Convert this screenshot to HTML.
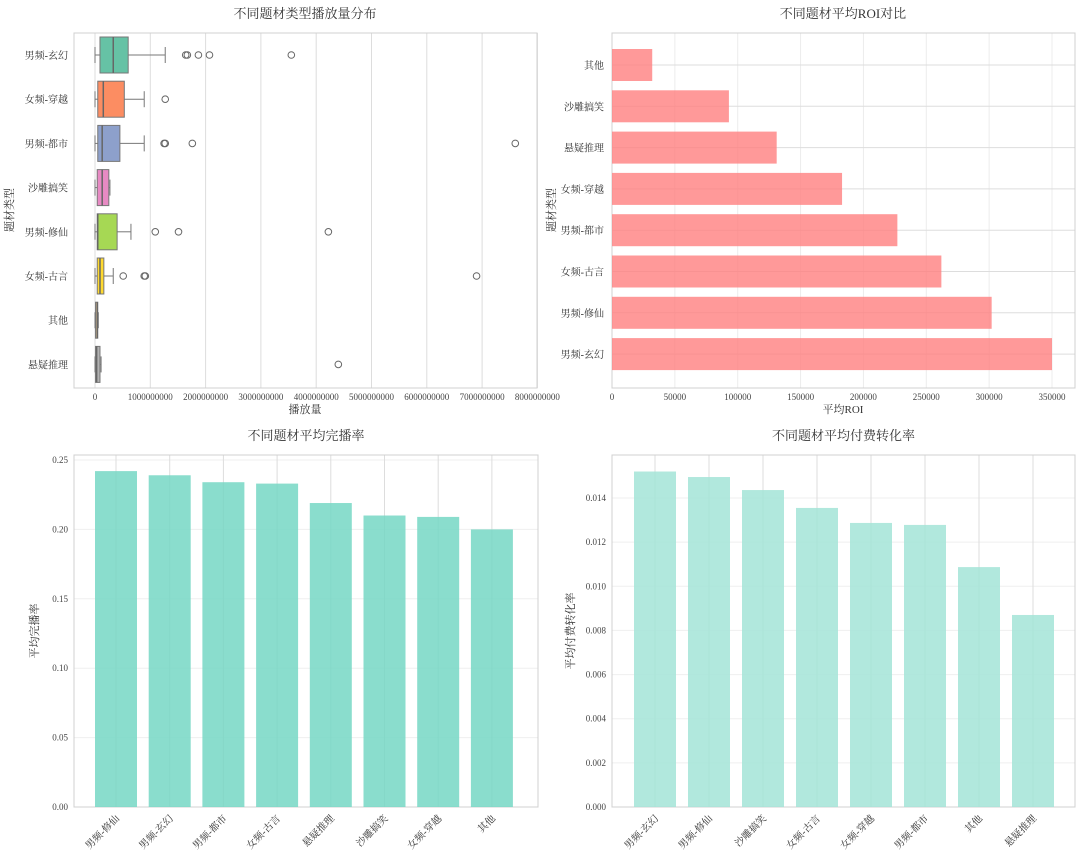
<!DOCTYPE html>
<html><head><meta charset="utf-8">
<style>
body{margin:0;background:#fff;}
svg{display:block;font-family:"Liberation Serif","Noto Serif CJK SC","Noto Sans CJK SC",serif;}
.tk{font-size:9px;fill:#444;}
.cat{font-size:10px;fill:#333;}
.ttl{font-size:13px;fill:#333;}
.lab{font-size:11px;fill:#333;}
</style></head>
<body>
<svg id="svg" width="1080" height="862" viewBox="0 0 1080 862"></svg>
<script>
// ---- Chart 1: box plot (units of 1e9 views) ----
const boxCats = ["男频-玄幻","女频-穿越","男频-都市","沙雕搞笑","男频-修仙","女频-古言","其他","悬疑推理"];
const boxLo  = [0,0,0,0,0,0,0,0];
const boxQ1  = [0.09,0.05,0.05,0.04,0.04,0.04,0.01,0.01];
const boxMed = [0.33,0.15,0.13,0.13,0.05,0.09,0.04,0.03];
const boxQ3  = [0.60,0.53,0.45,0.25,0.40,0.16,0.05,0.09];
const boxHi  = [1.27,0.89,0.89,0.27,0.65,0.33,0.06,0.11];
const boxOut = [[1.64,1.67,1.87,2.07,3.55],[1.27],[1.25,1.27,1.76,7.6],[],[1.09,1.51,4.22],[0.51,0.89,0.91,6.9],[],[4.4]];
const boxColors = ["#66c2a5","#fc8d62","#8da0cb","#e78ac3","#a6d854","#ffd92f","#e5c494","#b3b3b3"];
const boxTicks = [0,1,2,3,4,5,6,7,8];
const boxTickLabels = ["0","1000000000","2000000000","3000000000","4000000000","5000000000","6000000000","7000000000","8000000000"];
// ---- Chart 2: ROI ----
const roiCats = ["其他","沙雕搞笑","悬疑推理","女频-穿越","男频-都市","女频-古言","男频-修仙","男频-玄幻"];
const roiVals = [32000,93000,131000,183000,227000,262000,302000,350000];
const roiTicks = [0,50000,100000,150000,200000,250000,300000,350000];
// ---- Chart 3: completion ----
const cmpCats = ["男频-修仙","男频-玄幻","男频-都市","女频-古言","悬疑推理","沙雕搞笑","女频-穿越","其他"];
const cmpVals = [0.242,0.239,0.234,0.233,0.219,0.210,0.209,0.200];
const cmpTicks = [0,0.05,0.10,0.15,0.20,0.25];
// ---- Chart 4: pay conversion ----
const payCats = ["男频-玄幻","男频-修仙","沙雕搞笑","女频-古言","女频-穿越","男频-都市","其他","悬疑推理"];
const payVals = [0.0152,0.01495,0.01436,0.01355,0.01287,0.01278,0.01087,0.0087];
const payTicks = [0,0.002,0.004,0.006,0.008,0.010,0.012,0.014];

const NS="http://www.w3.org/2000/svg", S=document.getElementById('svg');
function el(t,a,p){const e=document.createElementNS(NS,t);for(const k in a)e.setAttribute(k,a[k]);(p||S).appendChild(e);return e;}
function txt(s,a,cls,p){const e=el('text',a,p);e.setAttribute('class',cls);e.textContent=s;return e;}
function frame(g,x0,y0,x1,y1){el('rect',{x:x0,y:y0,width:x1-x0,height:y1-y0,fill:'none',stroke:'#d0d0d0','stroke-width':1},g);}

// Chart 1
(function(){
 const g=el('g',{});
 const X0=74,X1=537,Y0=33,Y1=388;
 const sx=v=>95+v*55.3, sy=i=>55+i*44.2;
 boxTicks.forEach((t,i)=>{el('line',{x1:sx(t),x2:sx(t),y1:Y0,y2:Y1,stroke:'#ddd'},g);
  const l=txt(boxTickLabels[i],{x:sx(t),y:400,'text-anchor':'middle'},'tk',g);});
 frame(g,X0,Y0,X1,Y1);
 boxCats.forEach((c,i)=>{const y=sy(i),h=36;
  const b=el('g',{},g);
  el('line',{x1:sx(boxLo[i]),x2:sx(boxQ1[i]),y1:y,y2:y,stroke:'#777'},b);
  el('line',{x1:sx(boxQ3[i]),x2:sx(boxHi[i]),y1:y,y2:y,stroke:'#777'},b);
  el('line',{x1:sx(boxLo[i]),x2:sx(boxLo[i]),y1:y-8,y2:y+8,stroke:'#777'},b);
  el('line',{x1:sx(boxHi[i]),x2:sx(boxHi[i]),y1:y-8,y2:y+8,stroke:'#777'},b);
  el('rect',{x:sx(boxQ1[i]),y:y-h/2,width:sx(boxQ3[i])-sx(boxQ1[i]),height:h,fill:boxColors[i],stroke:'#777'},b);
  el('line',{x1:sx(boxMed[i]),x2:sx(boxMed[i]),y1:y-h/2,y2:y+h/2,stroke:'#666','stroke-width':1.5},b);
  boxOut[i].forEach(o=>el('circle',{cx:sx(o),cy:y,r:3.3,fill:'none',stroke:'#666'},b));
  const l=txt(c,{x:68,y:y+4,'text-anchor':'end'},'cat',g);
 });
 const t=txt('不同题材类型播放量分布',{x:305,y:18,'text-anchor':'middle'},'ttl',g);
 const xl=txt('播放量',{x:305,y:413,'text-anchor':'middle'},'lab',g);
 const yl=txt('题材类型',{x:0,y:0,'text-anchor':'middle',transform:'translate(13,210) rotate(-90)'},'lab',g);
})();

// Chart 2
(function(){
 const g=el('g',{});
 const X0=612,X1=1075,Y0=33,Y1=388;
 const sx=v=>612+v*(1052-612)/350000, sy=i=>65+i*41.3;
 roiTicks.forEach(t=>{el('line',{x1:sx(t),x2:sx(t),y1:Y0,y2:Y1,stroke:'#ececec'},g);
  const l=txt(String(t),{x:sx(t),y:400,'text-anchor':'middle'},'tk',g);});
 roiCats.forEach((c,i)=>el('line',{x1:X0,x2:X1,y1:sy(i),y2:sy(i),stroke:'#ddd'},g));
 frame(g,X0,Y0,X1,Y1);
 roiCats.forEach((c,i)=>{const r=el('rect',{x:sx(0),y:sy(i)-16,width:sx(roiVals[i])-sx(0),height:32,fill:'#ff7f7f','fill-opacity':0.8},g);
  
  const l=txt(c,{x:604,y:sy(i)+4,'text-anchor':'end'},'cat',g);});
 const t=txt('不同题材平均ROI对比',{x:843,y:18,'text-anchor':'middle'},'ttl',g);
 const xl=txt('平均ROI',{x:843,y:413,'text-anchor':'middle'},'lab',g);
 const yl=txt('题材类型',{x:0,y:0,'text-anchor':'middle',transform:'translate(555,210) rotate(-90)'},'lab',g);
})();

function vbar(name,cats,vals,ticks,dec,color,X0,X1,Y0,Y1,zeroY,topY,topV,c0,step,title,ylab,ylx){
 const g=el('g',{});
 const sy=v=>zeroY-v*(zeroY-topY)/topV, sx=i=>c0+i*step;
 ticks.forEach(t=>{el('line',{x1:X0,x2:X1,y1:sy(t),y2:sy(t),stroke:'#efefef'},g);
  const l=txt(t.toFixed(dec),{x:X0-6,y:sy(t)+3,'text-anchor':'end'},'tk',g);});
 cats.forEach((c,i)=>el('line',{x1:sx(i),x2:sx(i),y1:Y0,y2:Y1,stroke:'#ddd'},g));
 frame(g,X0,Y0,X1,Y1);
 cats.forEach((c,i)=>{const r=el('rect',{x:sx(i)-21,y:sy(vals[i]),width:42,height:sy(0)-sy(vals[i]),fill:color,'fill-opacity':0.85},g);
  
  const l=txt(c,{x:0,y:0,'text-anchor':'end',transform:`translate(${sx(i)+4},${Y1+12}) rotate(-45)`},'cat',g);});
 const t=txt(title,{x:(X0+X1)/2,y:440,'text-anchor':'middle'},'ttl',g);
 const yl=txt(ylab,{x:0,y:0,'text-anchor':'middle',transform:`translate(${ylx},${(Y0+Y1)/2}) rotate(-90)`},'lab',g);
}
vbar('completion-bar-chart',cmpCats,cmpVals,cmpTicks,2,'#76d7c4',74,538,455,807,807,460,0.25,116,53.7,'不同题材平均完播率','平均完播率',38);
vbar('pay-conversion-bar-chart',payCats,payVals,payTicks,3,'#a3e4d7',612,1075,455,807,807,498,0.014,655,54,'不同题材平均付费转化率','平均付费转化率',574);
</script>
</body></html>
